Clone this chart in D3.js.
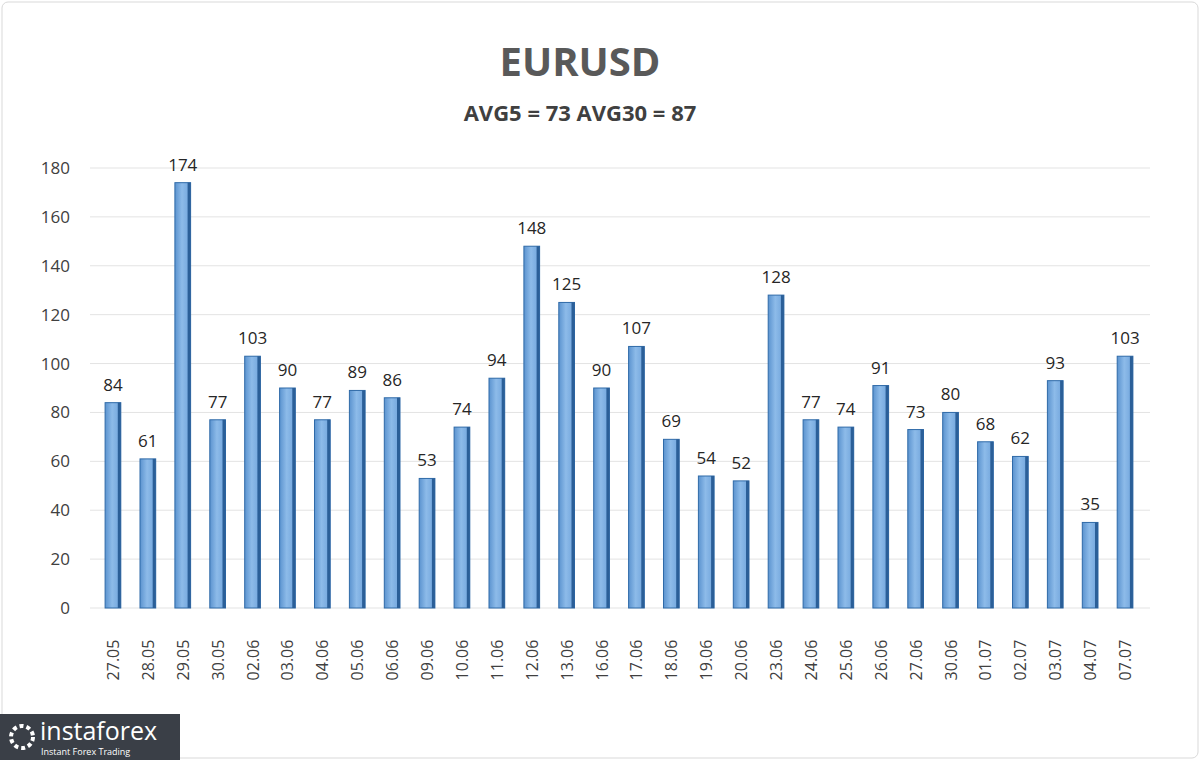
<!DOCTYPE html><html><head><meta charset="utf-8"><script src="https://cdn.jsdelivr.net/npm/d3@7"></script>
<style>body{margin:0;background:#fff}</style></head><body><svg id="c" width="1200" height="760"></svg>
<script>
const categories=["27.05","28.05","29.05","30.05","02.06","03.06","04.06","05.06","06.06","09.06","10.06","11.06","12.06","13.06","16.06","17.06","18.06","19.06","20.06","23.06","24.06","25.06","26.06","27.06","30.06","01.07","02.07","03.07","04.07","07.07"];
const values=[84,61,174,77,103,90,77,89,86,53,74,94,148,125,90,107,69,54,52,128,77,74,91,73,80,68,62,93,35,103];
const yTicks=[0,20,40,60,80,100,120,140,160,180];
const title="EURUSD", subtitle="AVG5 = 73 AVG30 = 87";
const svg=d3.select("#c");
const defs=svg.append("defs");
const g1=defs.append("linearGradient").attr("id","bg").attr("x1",0).attr("x2",1);
g1.append("stop").attr("offset",0).attr("stop-color","#5b93cf");
g1.append("stop").attr("offset",0.45).attr("stop-color","#8dbbe9");
g1.append("stop").attr("offset",1).attr("stop-color","#6fa3db");
svg.append("rect").attr("x",2).attr("y",2).attr("width",1196).attr("height",756).attr("rx",6).attr("fill","#fff").attr("stroke","#d9d9d9");
const y=d3.scaleLinear().domain([0,180]).range([608,168]);
const x=d3.scaleBand().domain(categories).range([95.5,1142.5]).paddingInner(0.55).paddingOuter(0.275);
svg.append("g").selectAll("line").data(yTicks).join("line").attr("x1",90).attr("x2",1150).attr("y1",d=>y(d)).attr("y2",d=>y(d)).attr("stroke","#e3e3e3");
svg.append("g").selectAll("text").data(yTicks).join("text").attr("x",70).attr("y",d=>y(d)+6).attr("text-anchor","end").attr("font-family","Open Sans").attr("font-size",17).attr("fill","#404040").text(d=>d);
const bars=svg.append("g");
categories.forEach((c,i)=>{
 const bx=x(c),bw=x.bandwidth(),by=y(values[i]);
 bars.append("rect").attr("x",bx).attr("y",by).attr("width",bw).attr("height",608-by).attr("fill","url(#bg)").attr("stroke","#2f6aa8").attr("stroke-width",1);
 bars.append("rect").attr("x",bx+bw-3).attr("y",by).attr("width",3).attr("height",608-by).attr("fill","#2b5f98");
 bars.append("text").attr("x",bx+bw/2).attr("y",by-12).attr("text-anchor","middle").attr("font-family","Open Sans").attr("font-size",17).attr("fill","#262626").text(values[i]);
 bars.append("text").attr("transform",`translate(${bx+bw/2+6},${660}) rotate(-90)`).attr("text-anchor","middle").attr("font-family","Open Sans").attr("font-size",16).attr("fill","#404040").text(c);
});
svg.append("text").attr("x",580).attr("y",76).attr("text-anchor","middle").attr("font-family","Open Sans").attr("font-weight","bold").attr("font-size",40).attr("fill","#595959").text(title);
svg.append("text").attr("x",580).attr("y",121).attr("text-anchor","middle").attr("font-family","Open Sans").attr("font-weight","bold").attr("font-size",22).attr("fill","#404040").text(subtitle);
const lg=svg.append("g");
lg.append("rect").attr("x",0).attr("y",714).attr("width",180).attr("height",46).attr("fill","#3a3f47");
lg.append("circle").attr("cx",22).attr("cy",737).attr("r",11).attr("fill","none").attr("stroke","#fff").attr("stroke-width",4).attr("stroke-dasharray","4 3");
lg.append("text").attr("x",40).attr("y",740).attr("font-family","Open Sans").attr("font-size",25).attr("fill","#fff").text("instaforex");
lg.append("text").attr("x",41).attr("y",755).attr("font-family","Open Sans").attr("font-size",9).attr("fill","#fff").text("Instant Forex Trading");
</script></body></html>
